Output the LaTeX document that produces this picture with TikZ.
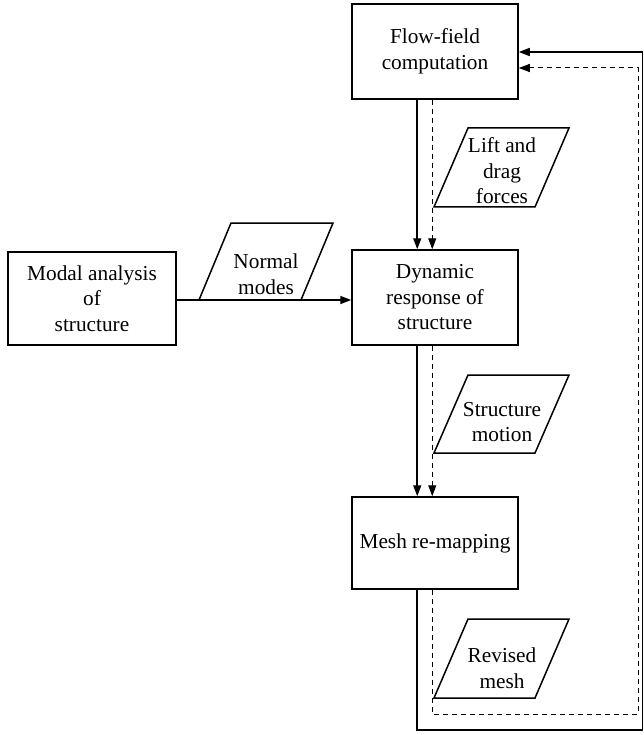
\documentclass[tikz,border=0pt]{standalone}
\usepackage{fontspec}
\setmainfont{Liberation Serif}
\newfontfamily\timesfam{Liberation Serif}
\usetikzlibrary{arrows.meta,calc}
\begin{document}
\begin{tikzpicture}[x=1pt,y=-1pt,
  txt/.style={font=\timesfam\fontsize{21.3}{25.5}\selectfont},
  box/.style={draw,line width=1.5pt,minimum width=166pt,minimum height=95pt,inner sep=0pt,align=center,txt},
  lbl/.style={align=center,inner sep=0pt,txt},
  para/.style={draw,line width=1.5pt},
  flow/.style={line width=1.6pt,-{Triangle[length=11pt,width=8pt]}},
  dflow/.style={line width=1pt,dash pattern=on 5pt off 4pt,-{Triangle[length=11pt,width=8pt]}},
]
\useasboundingbox (0,0) rectangle (644,735);

% process boxes
\node[box] (ff) at (435,51.5) {Flow-field\\computation};
\node[box] (dr) at (435,297.5) {Dynamic\\response of\\structure};
\node[box,minimum width=168pt,minimum height=93pt] (ma) at (92,298.5) {Modal analysis\\of\\structure};
\node[box,minimum height=92pt] (mr) at (435,543) {Mesh re-mapping};

% data parallelograms
\draw[para] (434,207) -- ++(101,0) -- ++(34,-79) -- ++(-101,0) -- cycle;
\node[lbl] (lift) at (502,171) {Lift and\\drag\\forces};

\draw[para] (434,453) -- ++(101,0) -- ++(34,-78) -- ++(-101,0) -- cycle;
\node[lbl] (sm) at (502,422) {Structure\\motion};

\draw[para] (434,698) -- ++(101,0) -- ++(34,-79) -- ++(-101,0) -- cycle;
\node[lbl] (rm) at (502,668) {Revised\\mesh};

\draw[para] (199,300) -- ++(102,0) -- ++(32,-77) -- ++(-102,0) -- cycle;
\node[lbl] (nm) at (266,274) {Normal\\modes};

% connectors
\draw[flow] ([xshift=66pt]ff.south west) -- ([xshift=66pt]dr.north west);
\draw[dflow] ([xshift=81pt]ff.south west) -- ([xshift=81pt]dr.north west);
\draw[flow] ([xshift=66pt]dr.south west) -- ([xshift=66pt]mr.north west);
\draw[dflow] ([xshift=81pt]dr.south west) -- ([xshift=81pt]mr.north west);
\draw[flow] ([yshift=-1.5pt]ma.east) -- ([yshift=-1.5pt]ma.east -| dr.west);

\coordinate (sc) at (642.5,730);
\coordinate (dc) at (638,714);
\draw[flow] ([xshift=66pt]mr.south west) |- (sc) |- ([yshift=-0.5pt]ff.east);
\draw[dflow] ([xshift=81pt]mr.south west) |- (dc) |- ([yshift=-16.5pt]ff.east);
\end{tikzpicture}
\end{document}
